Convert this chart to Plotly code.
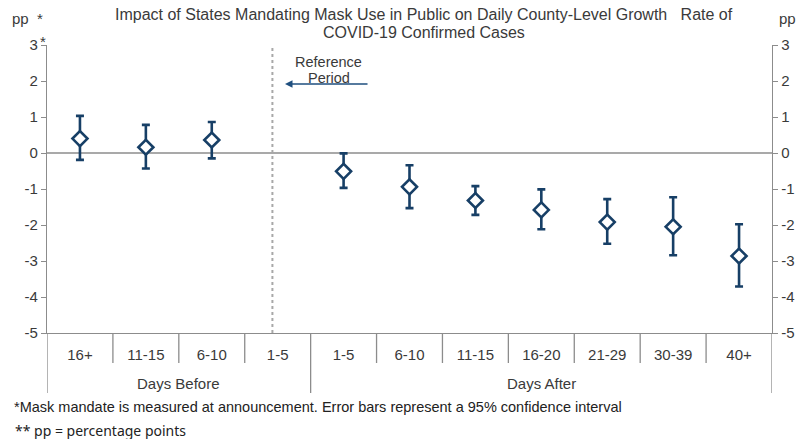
import plotly.graph_objects as go

# ---- data ----
categories = ["16+", "11-15", "6-10", "1-5", "1-5", "6-10", "11-15", "16-20", "21-29", "30-39", "40+"]
groups = ["Days Before", "Days After"]
group_sizes = [4, 7]
estimate = [0.40, 0.16, 0.36, None, -0.51, -0.94, -1.32, -1.58, -1.92, -2.05, -2.86]
upper = [1.03, 0.78, 0.86, None, -0.01, -0.34, -0.92, -1.01, -1.28, -1.23, -1.98]
lower = [-0.19, -0.43, -0.15, None, -0.97, -1.53, -1.72, -2.12, -2.52, -2.84, -3.71]
y_ticks = [3, 2, 1, 0, -1, -2, -3, -4, -5]
y_tick_text = ["3", "2", "1", "0", "-1", "-2", "-3", "-4", "-5"]
reference_x = 2.92

W, H = 806, 439
L, R, T, B = 47, 28, 45, 106
pw, ph = W - L - R, H - T - B


def px(x):
    return (x - L) / pw


def py(y):
    return (H - B - y) / ph


xs = list(range(len(categories)))
pts = [(x, e, u, l) for x, e, u, l in zip(xs, estimate, upper, lower) if e is not None]
blue = "#173f66"
gray = "#8c8c8c"
txt = "#3a3a3a"
font = "Liberation Sans, Arial, sans-serif"

fig = go.Figure()
fig.add_trace(go.Scatter(
    x=[p[0] for p in pts], y=[p[1] for p in pts], mode="markers",
    marker=dict(symbol="diamond", size=11.5, color="white", line=dict(width=2.6, color=blue)),
    error_y=dict(type="data", symmetric=False,
                 array=[p[2] - p[1] for p in pts],
                 arrayminus=[p[1] - p[3] for p in pts],
                 color=blue, thickness=2.6, width=4),
    showlegend=False, cliponaxis=False,
))
# invisible trace for right axis
fig.add_trace(go.Scatter(x=[0], y=[0], yaxis="y2", mode="markers",
                         marker=dict(opacity=0), showlegend=False, hoverinfo="skip"))

shapes = []
# zero line
shapes.append(dict(type="line", xref="paper", yref="y", x0=0, x1=1, y0=0, y1=0,
                   line=dict(color=gray, width=1.6), layer="below"))
# reference dotted line
shapes.append(dict(type="line", xref="x", yref="y", x0=reference_x, x1=reference_x, y0=-5, y1=2.92,
                   line=dict(color="#a8a8a8", width=2, dash="dot")))
# category dividers
inner_bottom = py(363)
outer_bottom = py(393)
bounds = [0]
for s in group_sizes:
    bounds.append(bounds[-1] + s)
for k in range(len(categories) + 1):
    is_outer = k in bounds
    shapes.append(dict(type="line", xref="x", yref="paper", x0=k - 0.5, x1=k - 0.5,
                       y0=0, y1=outer_bottom if is_outer else inner_bottom,
                       line=dict(color=gray, width=1.3)))


def ann(x, y, text, size, xanchor="center", family=font, color=txt, xref="paper"):
    return dict(x=x, y=y, xref=xref, yref="paper", text=text, showarrow=False,
                xanchor=xanchor, yanchor="middle",
                font=dict(size=size, color=color, family=family))


annotations = []
for g, a, b in zip(groups, bounds[:-1], bounds[1:]):
    annotations.append(ann((a + b - 1) / 2, py(383), g, 15, xref="x"))
# title
annotations.append(ann(px(427), py(14),
                       "Impact of States Mandating Mask Use in Public on Daily County-Level Growth&nbsp;&nbsp; Rate of", 16))
annotations.append(ann(px(427), py(32), "COVID-19 Confirmed Cases", 16))
# axis unit labels
annotations.append(ann(px(10), py(18), "pp&nbsp; *", 15, xanchor="left"))
annotations.append(ann(px(38), py(41), "*", 15, xanchor="left"))
annotations.append(ann(px(783), py(18), "pp", 15, xanchor="left"))
# reference period
annotations.append(ann(px(331), py(62), "Reference", 14.5))
annotations.append(ann(px(331), py(78), "Period", 14.5))
annotations.append(dict(x=px(287), y=py(84), ax=84, ay=0, xref="paper", yref="paper",
                        axref="pixel", ayref="pixel", showarrow=True, arrowhead=2, arrowsize=1,
                        arrowwidth=1.5, arrowcolor="#1f4f7f", text=""))
# footnotes
annotations.append(ann(px(12), py(407),
                       "*Mask mandate is measured at announcement. Error bars represent a 95% confidence interval",
                       14.5, xanchor="left", color="#222"))
annotations.append(ann(px(13), py(430), "** pp = percentage points", 14, xanchor="left",
                       family="Noto Sans, Open Sans, sans-serif", color="#222"))

axis_common = dict(range=[-5, 3], tickvals=y_ticks, ticktext=y_tick_text, ticks="outside", ticklen=5,
                   tickcolor=gray, showline=True, linecolor=gray, linewidth=1.3, showgrid=False,
                   zeroline=False, tickfont=dict(size=15, color=txt, family=font))

fig.update_layout(
    width=W, height=H, margin=dict(l=L, r=R, t=T, b=B),
    paper_bgcolor="white", plot_bgcolor="white",
    xaxis=dict(range=[-0.5, len(categories) - 0.5], tickvals=xs, ticktext=categories,
               showline=True, linecolor=gray, linewidth=1.3, showgrid=False, zeroline=False,
               ticks="", ticklabelstandoff=8, tickfont=dict(size=15, color=txt, family=font)),
    yaxis=dict(**axis_common),
    yaxis2=dict(**axis_common, overlaying="y", side="right"),
    shapes=shapes, annotations=annotations,
)

fig.write_html("out.html", config={"displayModeBar": False},
               post_script="document.body.style.margin='0';")
